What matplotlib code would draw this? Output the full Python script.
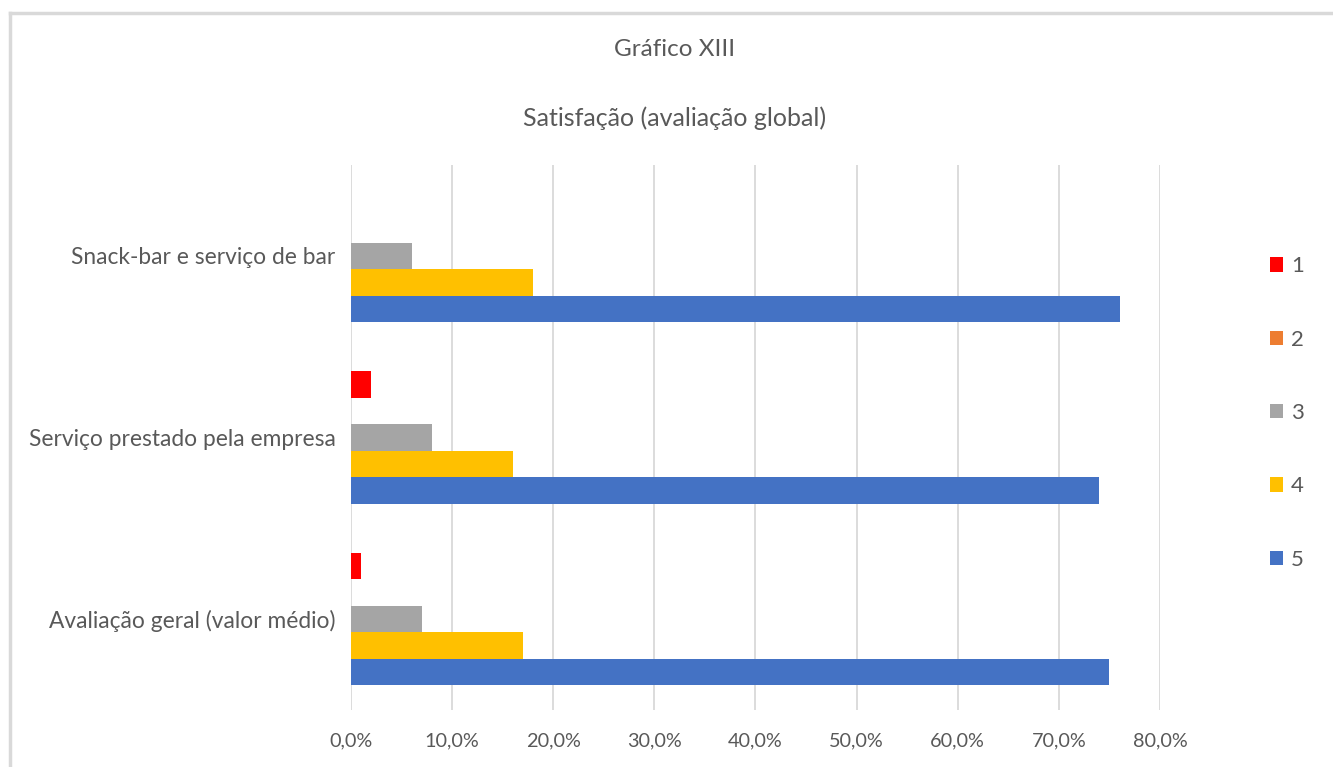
import matplotlib
matplotlib.use("Agg")
import matplotlib.pyplot as plt
from matplotlib.patches import Patch
from matplotlib.lines import Line2D
from matplotlib.ticker import FuncFormatter, MultipleLocator

plt.rcParams['font.family'] = ['Lato', 'DejaVu Sans']

# Categories listed bottom to top, as they appear on the y axis
categories = ["Avaliação geral (valor médio)",
              "Serviço prestado pela empresa",
              "Snack-bar e serviço de bar"]
series_names = ["1", "2", "3", "4", "5"]
# Share of answers (%) per rating, aligned with `categories`
values = {
    "1": [1, 2, 0],
    "2": [0, 0, 0],
    "3": [7, 8, 6],
    "4": [17, 16, 18],
    "5": [75, 74, 76],
}
colors = {
    "1": "#FF0000",
    "2": "#ED7D31",
    "3": "#A5A5A5",
    "4": "#FFC000",
    "5": "#4472C4",
}
title_main = "Gráfico XIII"
title_sub = "Satisfação (avaliação global)"

TEXT = "#595959"
GRID = "#D9D9D9"

W, H = 1333, 767
fig = plt.figure(figsize=(W / 100, H / 100), dpi=100)
ax = fig.add_axes([351 / W, 1 - 709.75 / H, (1160 - 351) / W, (709.75 - 165.25) / H])

bar_h = 0.146
for i, name in enumerate(series_names):
    offset = (2 - i) * bar_h
    ypos = [k + offset for k in range(len(categories))]
    ax.barh(ypos, values[name], height=bar_h, color=colors[name], zorder=3)

ax.set_xlim(0, 80)
ax.set_ylim(-0.5, len(categories) - 0.5)
ax.xaxis.set_major_locator(MultipleLocator(10))
ax.xaxis.set_major_formatter(FuncFormatter(lambda v, p: f"{v:.1f}%".replace(".", ",")))
ax.set_yticks(range(len(categories)))
ax.set_yticklabels(categories)
ax.grid(axis="x", color=GRID, linewidth=1.3, zorder=0)
for s in ax.spines.values():
    s.set_visible(False)
ax.tick_params(axis="both", length=0, colors=TEXT)
ax.tick_params(axis="x", pad=16, labelsize=14.3)
ax.tick_params(axis="y", pad=11, labelsize=16.4)

fig.text(0.506, 1 - 50 / H, title_main, ha="center", va="center", fontsize=17.5, color=TEXT)
fig.text(0.506, 1 - 118 / H, title_sub, ha="center", va="center", fontsize=18, color=TEXT)

handles = [Patch(facecolor=colors[n], edgecolor="none") for n in series_names]
leg = fig.legend(handles, series_names, loc="center left",
                 bbox_to_anchor=(1270 / W, 1 - 413 / H), frameon=False,
                 borderpad=0, borderaxespad=0, handlelength=0.6, handleheight=0.6,
                 handletextpad=0.35, labelspacing=2.4, fontsize=16)
for t in leg.get_texts():
    t.set_color(TEXT)

# Chart frame: top and left edges
fig.add_artist(Line2D([10 / W, 1], [1 - 13 / H, 1 - 13 / H], color=GRID, linewidth=2.5,
                      transform=fig.transFigure))
fig.add_artist(Line2D([10 / W, 10 / W], [0, 1 - 13 / H], color=GRID, linewidth=2.5,
                      transform=fig.transFigure))

fig.savefig("out.png", dpi=100, facecolor="white")
